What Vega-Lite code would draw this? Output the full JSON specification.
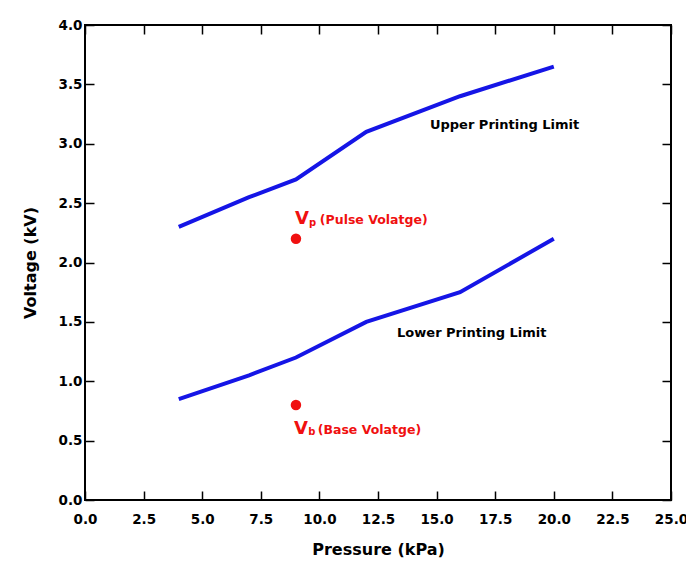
{
  "$schema": "https://vega.github.io/schema/vega-lite/v6.json",
  "width": 586,
  "height": 475,
  "autosize": {"type": "none"},
  "padding": {"left": 85, "top": 25, "right": 15, "bottom": 67},
  "background": "white",
  "config": {
    "view": {"stroke": "black", "strokeWidth": 2},
    "axis": {
      "grid": false,
      "domain": false,
      "tickColor": "black",
      "tickSize": -9,
      "tickWidth": 1.5,
      "labelFlush": false,
      "labelFont": "DejaVu Sans",
      "labelFontWeight": "bold",
      "labelFontSize": 13.5,
      "labelColor": "black",
      "titleFont": "DejaVu Sans",
      "titleFontWeight": "bold",
      "titleFontSize": 16,
      "titleColor": "black"
    }
  },
  "datasets": {
    "lines": [
      {"series": "Upper", "pressure": 4, "voltage": 2.3},
      {"series": "Upper", "pressure": 7, "voltage": 2.55},
      {"series": "Upper", "pressure": 9, "voltage": 2.7},
      {"series": "Upper", "pressure": 12, "voltage": 3.1},
      {"series": "Upper", "pressure": 16, "voltage": 3.4},
      {"series": "Upper", "pressure": 20, "voltage": 3.65},
      {"series": "Lower", "pressure": 4, "voltage": 0.85},
      {"series": "Lower", "pressure": 7, "voltage": 1.05},
      {"series": "Lower", "pressure": 9, "voltage": 1.2},
      {"series": "Lower", "pressure": 12, "voltage": 1.5},
      {"series": "Lower", "pressure": 16, "voltage": 1.75},
      {"series": "Lower", "pressure": 20, "voltage": 2.2}
    ],
    "points": [
      {"pressure": 9, "voltage": 2.2},
      {"pressure": 9, "voltage": 0.8}
    ],
    "labels": [
      {"pressure": 17.9, "voltage": 3.16, "text": "Upper Printing Limit"},
      {"pressure": 16.5, "voltage": 1.41, "text": "Lower Printing Limit"}
    ],
    "bigV": [
      {"pressure": 8.96, "voltage": 2.324, "text": "V"},
      {"pressure": 8.92, "voltage": 0.556, "text": "V"}
    ],
    "subLetter": [
      {"pressure": 9.56, "voltage": 2.31, "text": "p"},
      {"pressure": 9.52, "voltage": 0.547, "text": "b"}
    ],
    "subs": [
      {"pressure": 10.02, "voltage": 2.324, "text": "(Pulse Volatge)"},
      {"pressure": 9.93, "voltage": 0.556, "text": "(Base Volatge)"}
    ]
  },
  "resolve": {"axis": {"x": "independent", "y": "independent"}},
  "layer": [
    {
      "data": {"name": "lines"},
      "mark": {"type": "line", "strokeWidth": 4, "color": "#1515e6"},
      "encoding": {
        "x": {"field": "pressure", "type": "quantitative", "scale": {"domain": [0, 25], "nice": false, "zero": false},
              "axis": {"title": "Pressure (kPa)", "values": [0, 2.5, 5, 7.5, 10, 12.5, 15, 17.5, 20, 22.5, 25], "format": ".1f", "labelPadding": 21, "titlePadding": 16}},
        "y": {"field": "voltage", "type": "quantitative", "scale": {"domain": [0, 4], "nice": false, "zero": false},
              "axis": {"title": "Voltage (kV)", "values": [0, 0.5, 1, 1.5, 2, 2.5, 3, 3.5, 4], "format": ".1f", "labelPadding": 12, "titlePadding": 20}},
        "detail": {"field": "series"}
      }
    },
    {
      "data": {"name": "points"},
      "mark": {"type": "circle", "size": 110, "color": "#f01010", "opacity": 1},
      "encoding": {
        "x": {"field": "pressure", "type": "quantitative",
              "axis": {"orient": "top", "title": null, "labels": false, "values": [0, 2.5, 5, 7.5, 10, 12.5, 15, 17.5, 20, 22.5, 25]}},
        "y": {"field": "voltage", "type": "quantitative",
              "axis": {"orient": "right", "title": null, "labels": false, "values": [0, 0.5, 1, 1.5, 2, 2.5, 3, 3.5, 4]}}
      }
    },
    {
      "data": {"name": "labels"},
      "mark": {"type": "text", "font": "DejaVu Sans", "fontWeight": "bold", "fontSize": 13, "color": "black"},
      "encoding": {
        "x": {"field": "pressure", "type": "quantitative", "axis": null},
        "y": {"field": "voltage", "type": "quantitative", "axis": null},
        "text": {"field": "text"}
      }
    },
    {
      "data": {"name": "bigV"},
      "mark": {"type": "text", "font": "DejaVu Sans", "fontWeight": "bold", "fontSize": 18, "color": "#f01010", "align": "left", "baseline": "alphabetic"},
      "encoding": {
        "x": {"field": "pressure", "type": "quantitative", "axis": null},
        "y": {"field": "voltage", "type": "quantitative", "axis": null},
        "text": {"field": "text"}
      }
    },
    {
      "data": {"name": "subLetter"},
      "mark": {"type": "text", "font": "DejaVu Sans", "fontWeight": "bold", "fontSize": 10, "color": "#f01010", "align": "left", "baseline": "alphabetic"},
      "encoding": {
        "x": {"field": "pressure", "type": "quantitative", "axis": null},
        "y": {"field": "voltage", "type": "quantitative", "axis": null},
        "text": {"field": "text"}
      }
    },
    {
      "data": {"name": "subs"},
      "mark": {"type": "text", "font": "DejaVu Sans", "fontWeight": "bold", "fontSize": 12.5, "color": "#f01010", "align": "left", "baseline": "alphabetic"},
      "encoding": {
        "x": {"field": "pressure", "type": "quantitative", "axis": null},
        "y": {"field": "voltage", "type": "quantitative", "axis": null},
        "text": {"field": "text"}
      }
    }
  ]
}
